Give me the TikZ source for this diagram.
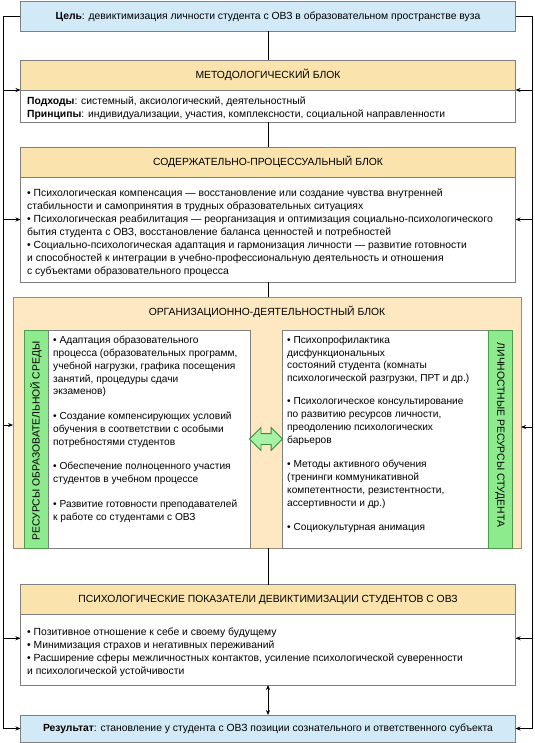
\documentclass[tikz,border=0pt]{standalone}
\usepackage{fontspec}
\setmainfont{Liberation Sans}
\usetikzlibrary{arrows.meta,calc,shapes.arrows}
\definecolor{bluefill}{HTML}{D2EAF8}
\definecolor{headfill}{HTML}{FBE3AE}
\definecolor{orgfill}{HTML}{FDE8C2}
\definecolor{boxgray}{HTML}{7F7F7F}
\definecolor{orgborder}{HTML}{9A8C74}
\definecolor{barfill}{HTML}{8DEA8D}
\definecolor{barborder}{HTML}{4C9C4C}
\definecolor{dblfill}{HTML}{A8F2A8}
\definecolor{dblborder}{HTML}{3C8C3C}
\begin{document}
\begin{tikzpicture}[x=1bp,y=-1bp,
  font=\fontsize{10.4}{13}\selectfont,
  box/.style={draw=boxgray,line width=0.8bp,inner sep=0pt,outer sep=0pt},
  bluebox/.style={box,fill=bluefill,minimum width=495bp},
  header/.style={box,fill=headfill,minimum width=495bp},
  bodybox/.style={box,fill=white,minimum width=495bp},
  bodytext/.style={inner sep=0pt,align=left,anchor=north west},
  barbox/.style={draw=barborder,line width=0.8bp,fill=barfill,inner sep=0pt,outer sep=0pt,minimum width=24bp,minimum height=218bp},
  colbox/.style={box,fill=white,minimum height=218bp},
  coltext/.style={inner sep=0pt,align=left,anchor=north west,font=\fontsize{10.2}{13}\selectfont},
  line/.style={draw=black,line width=0.7bp},
  arr/.style={line,-{Stealth[length=5bp,width=4bp]}},
  darr/.style={line,{Stealth[length=5bp,width=4bp]}-{Stealth[length=5bp,width=4bp]}}
]
\useasboundingbox (0,0) rectangle (535,743);

% goal
\node[bluebox,minimum height=30bp] (goal) at (268,16.5)
  {\textbf{Цель}: девиктимизация личности студента с ОВЗ в образовательном пространстве вуза};

% methodological block
\node[header,minimum height=30bp] (mh) at (268,75) {МЕТОДОЛОГИЧЕСКИЙ БЛОК};
\node[bodybox,minimum height=32bp,anchor=north] (mb) at (mh.south) {};
\node[bodytext] (mbt) at ($(mb.north west)+(6.5,6.5)$)
  {\textbf{Подходы}: системный, аксиологический, деятельностный\\
   \textbf{Принципы}: индивидуализации, участия, комплексности, социальной направленности};

% content block
\node[header,minimum height=30bp] (ch) at (268,162) {СОДЕРЖАТЕЛЬНО-ПРОЦЕССУАЛЬНЫЙ БЛОК};
\node[bodybox,minimum height=105bp,anchor=north] (cb) at (ch.south) {};
\node[bodytext] (cbt) at ($(cb.north west)+(6.5,11.5)$)
  {• Психологическая компенсация — восстановление или создание чувства внутренней\\
   стабильности и самопринятия в трудных образовательных ситуациях\\
   • Психологическая реабилитация — реорганизация и оптимизация социально-психологического\\
   бытия студента с ОВЗ, восстановление баланса ценностей и потребностей\\
   • Социально-психологическая адаптация и гармонизация личности — развитие готовности\\
   и способностей к интеграции в учебно-профессиональную деятельность и отношения\\
   с субъектами образовательного процесса};

% organisational block
\node[draw=orgborder,line width=0.8bp,fill=orgfill,inner sep=0pt,outer sep=0pt,
      minimum width=508bp,minimum height=251bp] (org) at (267,422.5) {};
\node[inner sep=0pt] (orgt) at (267,312) {ОРГАНИЗАЦИОННО-ДЕЯТЕЛЬНОСТНЫЙ БЛОК};
\node[barbox] (lbar) at (36,439) {};
\node[colbox,minimum width=202bp] (lbox) at (149,439) {};
\node[colbox,minimum width=206bp] (rbox) at (385,439) {};
\node[barbox] (rbar) at (500,439) {};
\node[rotate=90,inner sep=0pt] (lbart) at ($(lbar.center)+(0,2)$) {РЕСУРСЫ ОБРАЗОВАТЕЛЬНОЙ СРЕДЫ};
\node[rotate=-90,inner sep=0pt] (rbart) at ($(rbar.center)+(0,-4)$) {ЛИЧНОСТНЫЕ РЕСУРСЫ СТУДЕНТА};
\node[coltext] (ltext) at ($(lbox.north west)+(5,5.5)$)
  {• Адаптация образовательного\\
   процесса (образовательных программ,\\
   учебной нагрузки, графика посещения\\
   занятий, процедуры сдачи\\
   экзаменов)\\[11.5bp]
   • Создание компенсирующих условий\\
   обучения в соответствии с особыми\\
   потребностями студентов\\[11.5bp]
   • Обеспечение полноценного участия\\
   студентов в учебном процессе\\[11.5bp]
   • Развитие готовности преподавателей\\
   к работе со студентами с ОВЗ};
\node[coltext] (rtext) at ($(rbox.north west)+(5,5.5)$)
  {• Психопрофилактика\\
   дисфункциональных\\
   состояний студента (комнаты\\
   психологической разгрузки, ПРТ и др.)\\[9.5bp]
   • Психологическое консультирование\\
   по развитию ресурсов личности,\\
   преодолению психологических\\
   барьеров\\[11.5bp]
   • Методы активного обучения\\
   (тренинги коммуникативной\\
   компетентности, резистентности,\\
   ассертивности и др.)\\[11.5bp]
   • Социокультурная анимация};
\node[double arrow,draw=dblborder,line width=0.8bp,fill=dblfill,inner xsep=0pt,inner ysep=5bp,
      minimum height=33bp,minimum width=22bp,double arrow head extend=6bp] (swap)
  at ($(lbox.east)!0.5!(rbox.west)$) {};

% indicators block
\node[header,minimum height=30bp] (ih) at (268,599.5)
  {ПСИХОЛОГИЧЕСКИЕ ПОКАЗАТЕЛИ ДЕВИКТИМИЗАЦИИ СТУДЕНТОВ С ОВЗ};
\node[bodybox,minimum height=70.5bp,anchor=north] (ib) at (ih.south) {};
\node[bodytext] (ibt) at ($(ib.north west)+(6.5,13.5)$)
  {• Позитивное отношение к себе и своему будущему\\
   • Минимизация страхов и негативных переживаний\\
   • Расширение сферы межличностных контактов, усиление психологической суверенности\\
   и психологической устойчивости};

% result
\node[bluebox,minimum height=27bp] (res) at (268,728.5)
  {\textbf{Результат}: становление у студента с ОВЗ позиции сознательного и ответственного субъекта};

% vertical connectors
\draw[line] (goal.south) -- (mh.north);
\draw[line] (mb.south) -- (ch.north);
\draw[line] (cb.south) -- (cb.south |- org.north);
\draw[line] (ih.north |- org.south) -- (ih.north);
\draw[darr] (ib.south) -- (res.north);

% feedback rails
\coordinate (L) at (3,0);
\coordinate (R) at (532,0);
\coordinate (cin) at ($(cb.west)+(0,-10)$);
\coordinate (cinr) at ($(cb.east)+(0,-10)$);
\coordinate (oin) at ($(org.west)+(0,2.5)$);
\coordinate (oinr) at ($(org.east)+(0,4.5)$);
\coordinate (iin) at ($(ib.west)+(0,-11.5)$);
\coordinate (iinr) at ($(ib.east)+(0,-11.5)$);

\draw[line] (goal.west) -- (goal.west -| L) -- (res.west -| L);
\draw[arr] (res.west -| L) -- (res.west);
\draw[arr] (mh.south west -| L) -- (mh.south west);
\draw[arr] (cin -| L) -- (cin);
\draw[arr] (oin -| L) -- (oin);
\draw[arr] (iin -| L) -- (iin);

\draw[line] (goal.east) -- (goal.east -| R) -- (res.east -| R);
\draw[arr] (res.east -| R) -- (res.east);
\draw[arr] (mh.south east -| R) -- (mh.south east);
\draw[arr] (cinr -| R) -- (cinr);
\draw[arr] (oinr -| R) -- (oinr);
\draw[arr] (iinr -| R) -- (iinr);
\end{tikzpicture}
\end{document}
